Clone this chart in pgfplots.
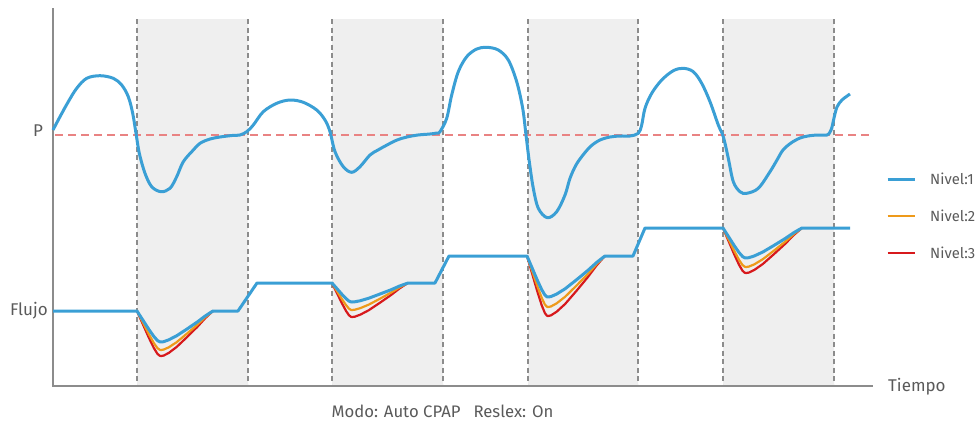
\documentclass[border=0pt]{standalone}
\usepackage{fontspec}
\setmainfont{Fira Sans}
\usepackage{pgfplots}
\pgfplotsset{compat=1.18}
\definecolor{pblue}{HTML}{3A9FD5}
\definecolor{porange}{HTML}{EE9A1A}
\definecolor{pred}{HTML}{D7191C}
\definecolor{band}{HTML}{EFEFEF}
\definecolor{axgray}{HTML}{8C8C8C}
\definecolor{txtgray}{HTML}{5A5A5A}
\definecolor{refred}{HTML}{E98383}
\begin{document}
\begin{tikzpicture}
\useasboundingbox (0,0) rectangle (975pt,424pt);
\begin{axis}[
  at={(53pt,38pt)}, anchor=south west,
  scale only axis, width=820pt, height=378pt,
  xmin=53, xmax=873, ymin=8, ymax=386, y dir=reverse,
  hide axis, clip=false,
  unbounded coords=jump,
  legend style={draw=none, fill=none, at={(axis description cs:1.0159,0.568)}, anchor=north west,
    row sep=22pt, column sep=13pt, font=\fontsize{14.8}{16}\selectfont, text=txtgray, inner sep=0pt,
    nodes={inner sep=1pt}},
  legend cell align=left,
  legend image code/.code={\draw[#1] (0pt,0pt) -- (27pt,0pt);},
]
% shaded bands
\addplot[fill=band, draw=none, forget plot] coordinates {(137,19) (248,19) (248,386) (137,386) (137,19)};
\addplot[fill=band, draw=none, forget plot] coordinates {(332,19) (443,19) (443,386) (332,386) (332,19)};
\addplot[fill=band, draw=none, forget plot] coordinates {(528,19) (638,19) (638,386) (528,386) (528,19)};
\addplot[fill=band, draw=none, forget plot] coordinates {(723,19) (834,19) (834,386) (723,386) (723,19)};
% dashed band edges
\addplot[axgray, line width=1.1pt, dash pattern=on 5pt off 3.5pt, forget plot] coordinates {(137,19) (137,386)};
\addplot[axgray, line width=1.1pt, dash pattern=on 5pt off 3.5pt, forget plot] coordinates {(248,19) (248,386)};
\addplot[axgray, line width=1.1pt, dash pattern=on 5pt off 3.5pt, forget plot] coordinates {(332,19) (332,386)};
\addplot[axgray, line width=1.1pt, dash pattern=on 5pt off 3.5pt, forget plot] coordinates {(443,19) (443,386)};
\addplot[axgray, line width=1.1pt, dash pattern=on 5pt off 3.5pt, forget plot] coordinates {(528,19) (528,386)};
\addplot[axgray, line width=1.1pt, dash pattern=on 5pt off 3.5pt, forget plot] coordinates {(638,19) (638,386)};
\addplot[axgray, line width=1.1pt, dash pattern=on 5pt off 3.5pt, forget plot] coordinates {(723,19) (723,386)};
\addplot[axgray, line width=1.1pt, dash pattern=on 5pt off 3.5pt, forget plot] coordinates {(834,19) (834,386)};
% reference pressure line
\addplot[refred, line width=1.4pt, dash pattern=on 8pt off 5pt, forget plot] coordinates {(55,135) (873,135)};
% axis lines
\addplot[axgray, line width=2.4pt, forget plot] coordinates {(53,8) (53,386) (873,386)};
% pressure curve
\addplot[pblue, line width=3pt, smooth, tension=0.55, forget plot] coordinates {
(53,130) (60,116.7) (68.3,101.7) (76.7,88.3) (86.7,78.3) (100,75.7) (113.3,78.3) (121.7,85) (128.3,96.7) (132.7,113.3) (136,133.3) (139.3,153.3) (145,173.3) (151.7,186.7) (161,191.7) (170,188.3) (176.7,176.7) (183.3,161.7) (193.3,150) (200,143.3) (210,139) (220,137) (232,135.5) (240,135) (246.7,131.7) (253.3,125) (263.3,111.7) (276.7,103.3) (290,100) (303.3,102.3) (316.7,110) (325,120) (330,131.7)
(335,151.7) (343.3,166.7) (351.7,172.3) (360,166.7) (370,155) (378,150) (387,145) (397,140) (407,137) (418,135) (430,134) (437,133) (440,131.7) (446.7,118.3) (451.7,95) (458.3,71.7) (466.7,56.7) (476.7,49) (486.7,47.3) (498.3,50) (508.3,60) (516.7,81.7) (522.7,108.3) (526,135) (529.3,161.7) (533.3,188.3) (538.3,208.3) (547.3,217.7) (556.7,211.7) (565,195) (570,178.3) (576,165) (583,155) (591,146) (600,140) (610,137) (620,136) (630,136)
(638.3,133.3) (641.7,125) (645,108.3) (651.7,93.3) (661.7,80) (673.3,70.7) (683.3,68.3) (693.3,71.7) (701.7,83.3) (710,101.7) (718.3,125) (723.3,136.7) (728.3,158.3) (733.3,181.7) (740,191.7) (746.7,193.3) (758.3,188.3) (770,171.7) (777,160) (783,150) (791,143) (800,138) (808,136) (817,135) (827,135) (830,132) (832,127) (834,118) (837,107) (842,100) (850,94)};
% flow, level 3
\addplot[pred, line width=2.2pt, line join=round, forget plot] coordinates {
(137,311) (143,324.5) (149,338) (153.8,347.9) (157.4,353.8) (159.8,355.8) (161,356) (163.6,355.6) (168.8,352.9) (176.6,347) (187,337.1) (197.4,326.8) (205.2,318.2) (210.4,313.3) (213,311) (nan,nan)
(332,283) (337,293.2) (342,303.4) (346,310.9) (349,315.3) (351,316.8) (352,317) (354.8,316.7) (360.4,314.6) (368.8,310.2) (380,302.7) (391.2,294.9) (399.6,288.4) (405.2,284.7) (408,283) (nan,nan)
(527,256) (532.25,274) (537.5,292) (541.7,305.2) (544.85,313) (546.95,315.7) (548,316) (550.85,315.4) (556.55,311.8) (565.1,304) (576.5,290.8) (587.9,277) (596.45,265.6) (602.15,259) (605,256) (nan,nan)
(723,228) (728.75,241.5) (734.5,255) (739.1,264.9) (742.55,270.8) (744.85,272.8) (746,273) (748.8,272.6) (754.4,269.9) (762.8,264) (774,254.1) (785.2,243.8) (793.6,235.2) (799.2,230.3) (802,228)};
% flow, level 2
\addplot[porange, line width=2.2pt, line join=round, forget plot] coordinates {
(137,311) (143,322.7) (149,334.4) (153.8,343) (157.4,348.1) (159.8,349.8) (161,350) (163.6,349.6) (168.8,347.3) (176.6,342.2) (187,333.6) (197.4,324.7) (205.2,317.2) (210.4,313) (213,311) (nan,nan)
(332,283) (337,291.1) (342,299.2) (346,305.1) (349,308.7) (351,309.9) (352,310) (354.8,309.7) (360.4,308.1) (368.8,304.6) (380,298.7) (391.2,292.5) (399.6,287.3) (405.2,284.4) (408,283) (nan,nan)
(527,256) (532.25,271.3) (537.5,286.6) (541.7,297.8) (544.85,304.5) (546.95,306.7) (548,307) (550.85,306.5) (556.55,303.4) (565.1,296.8) (576.5,285.6) (587.9,273.9) (596.45,264.2) (602.15,258.6) (605,256) (nan,nan)
(723,228) (728.75,239.7) (734.5,251.4) (739.1,260) (742.55,265.1) (744.85,266.8) (746,267) (748.8,266.6) (754.4,264.3) (762.8,259.2) (774,250.6) (785.2,241.7) (793.6,234.2) (799.2,230) (802,228)};
% flow, level 1
\addplot[pblue, line width=3pt, line join=round, forget plot] coordinates {
(53,311) (137,311) (143,320.3) (149,329.6) (153.8,336.4) (157.4,340.5) (159.8,341.8) (161,342) (163.6,341.7) (168.8,339.8) (176.6,335.8) (187,329) (197.4,321.9) (205.2,316) (210.4,312.6) (213,311)
(238,311) (257,283) (332,283) (337,288.7) (342,294.4) (346,298.6) (349,301.1) (351,301.9) (352,302) (354.8,301.8) (360.4,300.7) (368.8,298.2) (380,294) (391.2,289.7) (399.6,286) (405.2,284) (408,283)
(435,283) (449,256) (527,256) (532.25,268.3) (537.5,280.6) (541.7,289.6) (544.85,295) (546.95,296.8) (548,297) (550.85,296.6) (556.55,294.1) (565.1,288.8) (576.5,279.8) (587.9,270.4) (596.45,262.6) (602.15,258.1) (605,256)
(633,256) (645,228) (723,228) (728.75,237) (734.5,246) (739.1,252.6) (742.55,256.5) (744.85,257.85) (746,258) (748.8,257.7) (754.4,255.9) (762.8,252) (774,245.4) (785.2,238.5) (793.6,232.8) (799.2,229.5) (802,228) (850,228)};
% legend
\addlegendimage{pblue, line width=3pt}
\addlegendentry{Nivel:1}
\addlegendimage{porange, line width=2.2pt}
\addlegendentry{Nivel:2}
\addlegendimage{pred, line width=2.2pt}
\addlegendentry{Nivel:3}
% labels
\node[text=txtgray, font=\fontsize{17}{20}\selectfont, inner sep=0pt] at (axis cs:38,131) {P};
\node[text=txtgray, font=\fontsize{17}{20}\selectfont, inner sep=0pt, anchor=east] at (axis cs:48,311) {Flujo};
\node[text=txtgray, font=\fontsize{17}{20}\selectfont, inner sep=0pt, anchor=west] at (axis cs:888,387) {Tiempo};
\node[text=txtgray, font=\fontsize{16.7}{20}\selectfont, inner sep=0pt] at (axis cs:442.5,411) {Modo: Auto CPAP\hspace{13pt}Reslex: On};
\end{axis}
\end{tikzpicture}
\end{document}
